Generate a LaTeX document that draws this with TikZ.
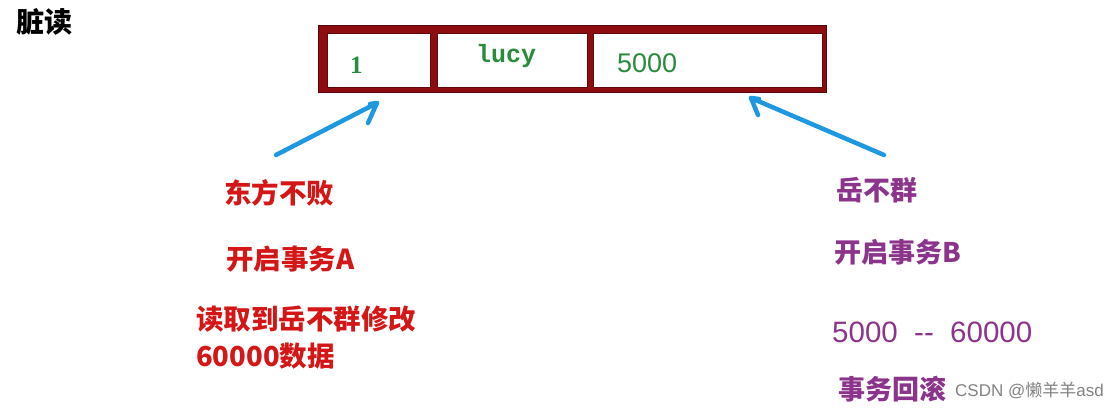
\documentclass[tikz,border=0pt]{standalone}
\usepackage{fontspec}
\setmainfont{Liberation Sans}
\newfontfamily\cjk{Noto Sans CJK SC}
\newfontfamily\mono{Liberation Mono}
\newfontfamily\serifm{Liberation Serif}
\definecolor{tabred}{RGB}{140,12,16}
\definecolor{cellgreen}{RGB}{40,140,60}
\definecolor{txtred}{RGB}{212,22,22}
\definecolor{txtpurple}{RGB}{140,52,140}
\definecolor{arrblue}{RGB}{30,152,225}
\definecolor{wm}{RGB}{130,130,130}
\tikzset{
  cell/.style={draw=tabred!70!black, line width=0.8pt, fill=white, inner sep=0, anchor=north west},
  lab/.style={inner sep=0, anchor=west},
  redtxt/.style={lab, text=txtred, font=\cjk\bfseries\fontsize{27.5}{30}\selectfont},
  purtxt/.style={lab, text=txtpurple, font=\cjk\bfseries\fontsize{27}{30}\selectfont},
  bluearrow/.style={draw=arrblue, line width=4.5pt, line cap=round, line join=round},
}
\begin{document}
\begin{tikzpicture}[x=1pt,y=-1pt]
\useasboundingbox (0,0) rectangle (1117,411);
% title
\node[lab, font=\cjk\bfseries\fontsize{28}{30}\selectfont] (title) at (16,22) {脏读};
% table
\node[fill=tabred, draw=tabred!60!black, line width=0.8pt, inner sep=0, anchor=north west,
      minimum width=508pt, minimum height=67pt] (tab) at (318,25) {};
\node[cell, minimum width=103pt, minimum height=54pt] (c1) at (327,33) {};
\node[cell, minimum width=150pt, minimum height=54pt] (c2) at (437,33) {};
\node[cell, minimum width=229pt, minimum height=54pt] (c3) at (593,33) {};
\node[lab, text=cellgreen, font=\serifm\bfseries\fontsize{25}{28}\selectfont] (v1) at (350,65) {1};
\node[lab, text=cellgreen, font=\mono\bfseries\fontsize{25}{28}\selectfont] (v2) at (476,56) {lucy};
\node[lab, text=cellgreen, font=\fontsize{27}{28}\selectfont] (v3) at (617,63) {5000};
% left texts
\node[redtxt] (a1) at (224,193) {东方不败};
\node[redtxt] (a2) at (226,259) {开启事务A};
\node[redtxt] (a3) at (196,319) {读取到岳不群修改};
\node[redtxt] (a4) at (196,356) {60000数据};
% right texts
\node[purtxt] (b1) at (836,190) {岳不群};
\node[purtxt] (b2) at (834,252) {开启事务B};
\node[lab, text=txtpurple, font=\fontsize{29.5}{32}\selectfont] (b3) at (832,332) {5000\ \ -{}-\ \ 60000};
\node[purtxt] (b4) at (838,389) {事务回滚};
\node[lab, text=wm, font=\fontsize{17}{20}\selectfont] (wmk) at (955,391) {CSDN @{\cjk 懒羊羊}asd};
% arrows
\coordinate (la) at (276,155);
\coordinate (lt) at (377,103);
\coordinate (ra) at (884,155);
\coordinate (rt) at (751,98);
\draw[bluearrow] (la) -- (lt) -- ++(-9,20);
\draw[bluearrow] (lt) -- ++(-7,1);
\draw[bluearrow] (ra) -- (rt) -- ++(7,17);
\draw[bluearrow] (rt) -- ++(8,1);
\end{tikzpicture}
\end{document}
